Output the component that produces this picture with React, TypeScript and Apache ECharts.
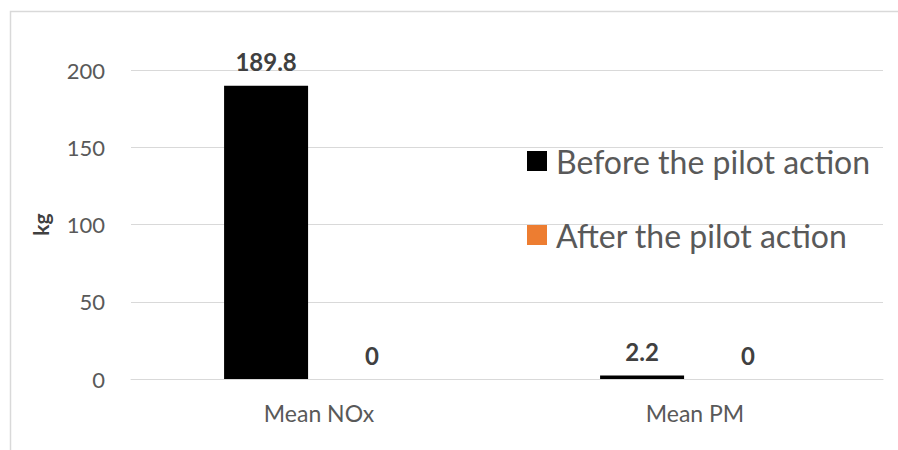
import React, { useEffect, useRef } from "react";
import * as echarts from "echarts";

const categories = ["Mean NOx", "Mean PM"];
const beforeValues = [189.8, 2.2];
const afterValues = [0, 0];
const seriesNames = ["Before the pilot action", "After the pilot action"];
const yTicks = { min: 0, max: 200, interval: 50 };

export default function App() {
  const ref = useRef<HTMLDivElement>(null);
  useEffect(() => {
    const chart = echarts.init(ref.current!, undefined, { renderer: "svg" });
    const labelStyle = {
      show: true,
      position: "top",
      distance: 12,
      fontFamily: "Lato",
      fontWeight: "bold",
      fontSize: 24,
      color: "#404040",
    };
    chart.setOption({
      animation: false,
      backgroundColor: "#ffffff",
      graphic: [
        {
          type: "rect",
          left: 8,
          top: 9,
          shape: { width: 900, height: 450 },
          style: { fill: "none", stroke: "#d9d9d9", lineWidth: 1.5 },
          silent: true,
          z: -1,
        },
      ],
      grid: { left: 131, right: 15, top: 70, bottom: 71 },
      legend: {
        orient: "vertical",
        left: 522,
        top: 140,
        itemWidth: 20,
        itemHeight: 20,
        itemGap: 42,
        icon: "rect",
        textStyle: { fontFamily: "Lato", fontSize: 32, color: "#595959", padding: [0, 0, 0, 4] },
        data: seriesNames,
      },
      xAxis: {
        type: "category",
        data: categories,
        axisLine: { show: true, lineStyle: { color: "#d9d9d9", width: 1 } },
        axisTick: { show: false },
        axisLabel: { fontFamily: "Lato", fontSize: 23, color: "#595959", margin: 22 },
      },
      yAxis: {
        type: "value",
        min: yTicks.min,
        max: yTicks.max,
        interval: yTicks.interval,
        name: "kg",
        nameLocation: "middle",
        nameGap: 80,
        nameRotate: 90,
        nameTextStyle: { fontFamily: "Lato", fontWeight: "bold", fontSize: 21, color: "#404040" },
        axisLine: { show: false },
        axisTick: { show: false },
        axisLabel: { fontFamily: "Lato", fontSize: 22, color: "#595959", margin: 26 },
        splitLine: { lineStyle: { color: "#d9d9d9", width: 1 } },
      },
      series: [
        {
          name: seriesNames[0],
          type: "bar",
          data: beforeValues,
          barWidth: 84,
          barGap: "26%",
          itemStyle: { color: "#000000" },
          label: labelStyle,
        },
        {
          name: seriesNames[1],
          type: "bar",
          data: afterValues,
          barWidth: 84,
          itemStyle: { color: "#ED7D31" },
          label: labelStyle,
        },
      ],
    });
    return () => chart.dispose();
  }, []);
  return (
    <div
      ref={ref}
      style={{ position: "fixed", left: 0, top: 0, width: 898, height: 450 }}
    />
  );
}
